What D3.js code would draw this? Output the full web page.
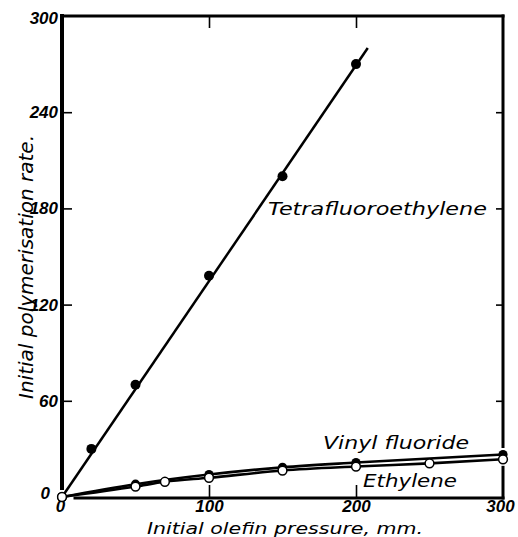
<!DOCTYPE html>
<html><head><meta charset="utf-8">
<script src="https://cdn.jsdelivr.net/npm/d3@7"></script>
<style>body{margin:0;background:#fff} svg{display:block}</style>
</head><body><script>
// ---- data ----
const xTickValues = [0, 100, 200, 300];
const yTickValues = [0, 60, 120, 180, 240, 300];
const tetraX = [0, 20, 50, 100, 150, 200];
const tetraY = [0, 30, 70, 138, 200, 270];
const tetraFitX = [0, 208];
const tetraFitY = [0, 280];
const vinylX = [0, 50, 100, 150, 200, 300];
const vinylY = [0, 8, 14, 18.5, 21.5, 26.5];
const ethX = [0, 50, 70, 100, 150, 200, 250, 300];
const ethY = [0, 6.5, 9.5, 12, 16.5, 19, 21, 23.5];
const seriesLabels = ["Tetrafluoroethylene", "Vinyl fluoride", "Ethylene"];
const xTitle = "Initial olefin pressure, mm.";
const yTitle = "Initial polymerisation rate.";

const W = 518, H = 537;
const svg = d3.select("body").append("svg").attr("width", W).attr("height", H);
const x = d3.scaleLinear([0, 300], [62, 503]);
const y = d3.scaleLinear([0, 300], [497, 16]);
const zip = (a, b) => a.map((v, i) => [v, b[i]]);
const tickFont = "'Liberation Sans', Arial, sans-serif";
const textFont = "'DejaVu Sans', 'Liberation Sans', sans-serif";

// ---- frame ----
const frame = svg.append("g").attr("stroke", "#000").attr("stroke-linecap", "square");
frame.append("line").attr("x1", x(0)).attr("x2", x(0)).attr("y1", y(300)).attr("y2", y(0) - 9).attr("stroke-width", 4);
frame.append("line").attr("x1", x(0)).attr("x2", x(300)).attr("y1", y(300)).attr("y2", y(300)).attr("stroke-width", 3);
const gapTop = y(vinylY[vinylY.length - 1]) - 8, gapBot = y(ethY[ethY.length - 1]) + 8;
frame.append("line").attr("x1", x(300)).attr("x2", x(300)).attr("y1", y(300)).attr("y2", gapTop).attr("stroke-width", 3);
frame.append("line").attr("x1", x(300)).attr("x2", x(300)).attr("y1", gapBot).attr("y2", y(0) + 1).attr("stroke-width", 3);
frame.append("line").attr("x1", x(0) + 13).attr("x2", x(300)).attr("y1", y(0) + 1).attr("y2", y(0) + 1).attr("stroke-width", 3);

// ---- inward ticks ----
function ticksOnly(axis, tr) {
  const g = svg.append("g").attr("transform", tr).call(axis);
  g.select(".domain").remove();
  g.selectAll("text").remove();
  g.selectAll("line").attr("stroke", "#000").attr("stroke-width", 1.6);
}
const innerY = yTickValues.filter(v => v > 0 && v < 300);
const innerX = xTickValues.filter(v => v > 0 && v < 300);
ticksOnly(d3.axisLeft(y).tickValues(innerY).tickSize(-10), `translate(${x(0)},0)`);
ticksOnly(d3.axisRight(y).tickValues(innerY).tickSize(-7), `translate(${x(300)},0)`);
ticksOnly(d3.axisBottom(x).tickValues(innerX).tickSize(-12), `translate(0,${y(0)})`);
ticksOnly(d3.axisTop(x).tickValues(innerX).tickSize(-12), `translate(0,${y(300)})`);

// ---- tick labels ----
const yl = svg.append("g").attr("transform", `translate(${x(0)},0)`)
  .call(d3.axisLeft(y).tickValues(yTickValues).tickSize(0).tickPadding(4));
yl.select(".domain").remove();
yl.selectAll("text").attr("font-family", tickFont).attr("font-size", 17)
  .attr("font-weight", "bold").attr("font-style", "italic").attr("fill", "#000")
  .attr("dx", d => d === 0 ? -8 : 0).attr("dy", d => d === 0 ? "0.1em" : d === 300 ? "0.45em" : "0.32em");
const xl = svg.append("g").attr("transform", `translate(0,${y(0)})`)
  .call(d3.axisBottom(x).tickValues(xTickValues).tickSize(0).tickPadding(3));
xl.select(".domain").remove();
xl.selectAll("text").attr("font-family", tickFont).attr("font-size", 17)
  .attr("font-weight", "bold").attr("font-style", "italic").attr("fill", "#000")
  .attr("dx", d => d === 300 ? -3 : d === 0 ? -2 : 0);

// ---- lines ----
const line = d3.line().x(d => x(d[0])).y(d => y(d[1]));
svg.append("path").datum(zip(tetraFitX, tetraFitY)).attr("d", line)
  .attr("fill", "none").attr("stroke", "#000").attr("stroke-width", 2.5);
const smooth = d3.line().x(d => x(d[0])).y(d => y(d[1])).curve(d3.curveMonotoneX);
svg.append("path").datum(zip(vinylX, vinylY)).attr("d", smooth)
  .attr("fill", "none").attr("stroke", "#000").attr("stroke-width", 2.6);
svg.append("path").datum(zip(ethX, ethY)).attr("d", smooth)
  .attr("fill", "none").attr("stroke", "#000").attr("stroke-width", 2.6);

// ---- markers ----
svg.append("g").selectAll("circle").data(zip(tetraX, tetraY)).join("circle")
  .attr("cx", d => x(d[0])).attr("cy", d => y(d[1])).attr("r", 5).attr("fill", "#000");
svg.append("g").selectAll("circle").data(zip(vinylX, vinylY)).join("circle")
  .attr("cx", d => x(d[0])).attr("cy", d => y(d[1])).attr("r", 4.6).attr("fill", "#000");
svg.append("g").selectAll("circle").data(zip(ethX, ethY)).join("circle")
  .attr("cx", d => x(d[0])).attr("cy", d => y(d[1])).attr("r", 4.4)
  .attr("fill", "#fff").attr("stroke", "#000").attr("stroke-width", 1.5);

// ---- series labels ----
function label(t, px, py, len) {
  svg.append("text").text(t).attr("x", px).attr("y", py)
    .attr("font-family", textFont).attr("font-size", 17).attr("font-style", "italic")
    .attr("fill", "#000").attr("textLength", len).attr("lengthAdjust", "spacingAndGlyphs");
}
label(seriesLabels[0], 268, 215, 219);
label(seriesLabels[1], 323, 449, 146);
label(seriesLabels[2], 363, 487, 94);

// ---- axis titles ----
svg.append("text").text(xTitle).attr("x", 147).attr("y", 534)
  .attr("font-family", textFont).attr("font-size", 16).attr("font-style", "italic")
  .attr("fill", "#000").attr("textLength", 276).attr("lengthAdjust", "spacingAndGlyphs");
svg.append("text").text(yTitle).attr("transform", "translate(33,399) rotate(-90)")
  .attr("font-family", textFont).attr("font-size", 19).attr("font-style", "italic")
  .attr("fill", "#000").attr("textLength", 264).attr("lengthAdjust", "spacingAndGlyphs");
</script></body></html>
